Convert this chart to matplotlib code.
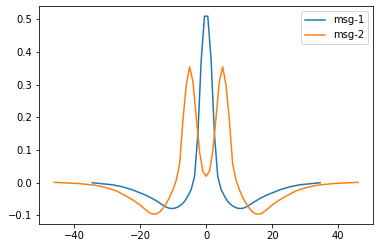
import numpy as np
import matplotlib
matplotlib.use("Agg")
import matplotlib.pyplot as plt

# msg-1: values at |x| = 0.5, 1.5, ..., 34.5 (symmetric)
msg1_half = [0.510, 0.375, 0.150, 0.020, -0.020, -0.040, -0.057, -0.067,
             -0.074, -0.078, -0.079, -0.077, -0.072, -0.066, -0.059, -0.053,
             -0.047, -0.042, -0.037, -0.033, -0.029, -0.025, -0.021, -0.018,
             -0.015, -0.012, -0.010, -0.008, -0.006, -0.005, -0.004, -0.003,
             -0.002, -0.001, 0.000]
# msg-2: values at |x| = 0, 1, ..., 46 (symmetric)
msg2_half = [0.020, 0.035, 0.095, 0.200, 0.310, 0.355, 0.300, 0.195, 0.060,
             0.010, -0.020, -0.043, -0.062, -0.077, -0.089, -0.095, -0.096,
             -0.093, -0.085, -0.077, -0.068, -0.061, -0.054, -0.048, -0.042,
             -0.037, -0.031, -0.026, -0.022, -0.019, -0.016, -0.013, -0.011,
             -0.009, -0.007, -0.006, -0.005, -0.004, -0.003, -0.002, -0.002,
             -0.001, -0.001, 0.000, 0.000, 0.001, 0.001]
labels = ["msg-1", "msg-2"]

y1 = np.array(msg1_half[::-1] + msg1_half)
x1 = np.arange(len(y1)) - (len(y1) - 1) / 2.0
y2 = np.array(msg2_half[:0:-1] + msg2_half)
x2 = np.arange(len(y2)) - (len(y2) - 1) / 2.0

fig = plt.figure(figsize=(380 / 72, 248 / 72), dpi=72)
ax = fig.add_axes([39 / 380, 24 / 248, (373.3 - 39) / 380, (241.7 - 24) / 248])
ax.plot(x1, y1, label=labels[0])
ax.plot(x2, y2, label=labels[1])
ax.set_xticks([-40, -20, 0, 20, 40])
ax.set_yticks([-0.1, 0.0, 0.1, 0.2, 0.3, 0.4, 0.5])
ax.legend(loc="upper right")
fig.savefig("out.png", dpi=72)
